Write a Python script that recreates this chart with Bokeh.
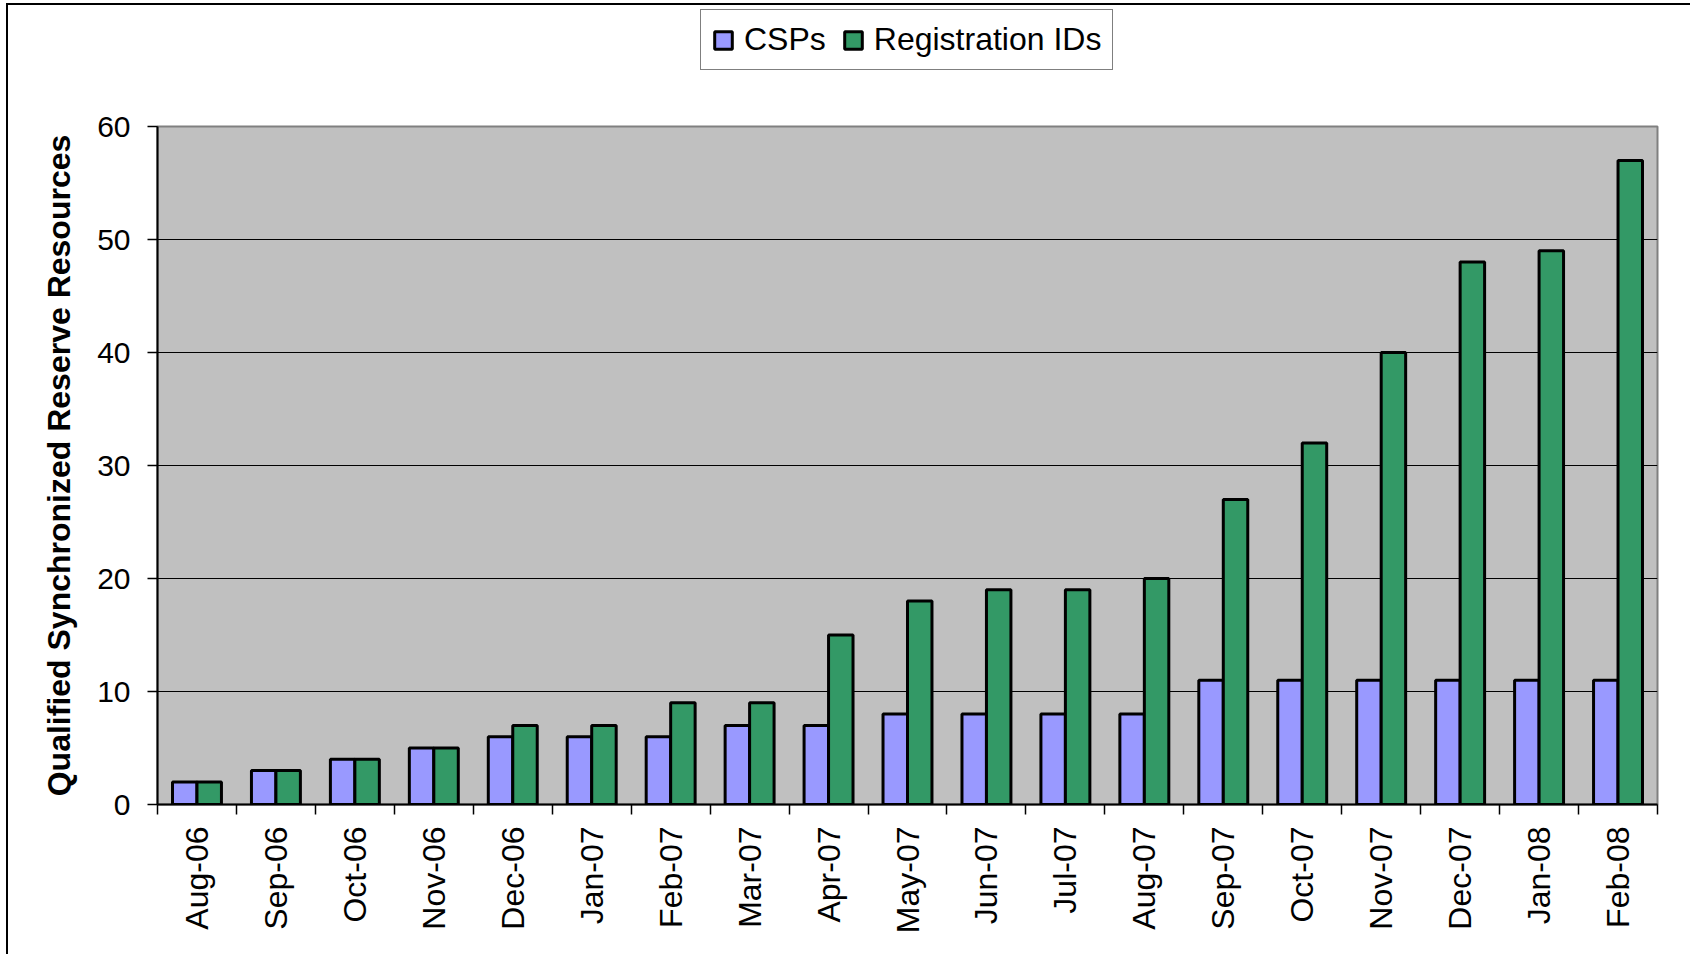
from bokeh.plotting import figure
from bokeh.models import ColumnDataSource, FixedTicker, Legend, LegendItem, Range1d
from bokeh.layouts import column
from bokeh.transform import dodge
from bokeh.embed import file_html
from bokeh.resources import INLINE

months = ["Aug-06", "Sep-06", "Oct-06", "Nov-06", "Dec-06", "Jan-07", "Feb-07", "Mar-07",
          "Apr-07", "May-07", "Jun-07", "Jul-07", "Aug-07", "Sep-07", "Oct-07", "Nov-07",
          "Dec-07", "Jan-08", "Feb-08"]
csps = [2, 3, 4, 5, 6, 6, 6, 7, 7, 8, 8, 8, 8, 11, 11, 11, 11, 11, 11]
reg_ids = [2, 3, 4, 5, 7, 7, 9, 9, 15, 18, 19, 19, 20, 27, 32, 40, 48, 49, 57]
y_ticks = [0, 10, 20, 30, 40, 50, 60]
series_names = ["CSPs", "Registration IDs"]
series_colors = ["#9999FF", "#339966"]

n = len(months)
centers = [i + 0.5 for i in range(n)]
bounds = list(range(n + 1))

src = ColumnDataSource(dict(x=centers, csps=csps, reg=reg_ids, m=months))

FONT = "Liberation Sans"
W = 1682
TOP_H = 90
MAIN_H = 859
LEFT = 149

# ---------- main chart ----------
p = figure(width=W, height=MAIN_H, output_backend="svg", toolbar_location=None,
           x_range=Range1d(0, n), y_range=Range1d(0, 60),
           min_border_left=LEFT, min_border_right=33, min_border_top=31, min_border_bottom=150)

p.background_fill_color = "#C0C0C0"
p.border_fill_color = "white"
p.outline_line_color = "#808080"
p.outline_line_width = 2

bw = 0.31
r1 = p.vbar(x=dodge("x", -bw / 2), top="csps", width=bw, source=src,
            fill_color=series_colors[0], line_color="black", line_width=3)
r2 = p.vbar(x=dodge("x", bw / 2), top="reg", width=bw, source=src,
            fill_color=series_colors[1], line_color="black", line_width=3)

p.xaxis.ticker = FixedTicker(ticks=centers, minor_ticks=bounds)
p.xaxis.major_label_overrides = {c: m for c, m in zip(centers, months)}
p.xaxis.major_tick_line_color = None
p.xaxis.minor_tick_line_color = "black"
p.xaxis.minor_tick_line_width = 1.5
p.xaxis.minor_tick_in = 0
p.xaxis.minor_tick_out = 10
p.xaxis.major_label_orientation = 1.5708
p.xaxis.major_label_text_font = FONT
p.xaxis.major_label_text_font_size = "32px"
p.xaxis.major_label_text_color = "black"
p.xaxis.major_label_standoff = 12
p.xaxis.axis_line_color = "black"
p.xaxis.axis_line_width = 2

p.yaxis.ticker = FixedTicker(ticks=y_ticks)
p.yaxis.minor_tick_line_color = None
p.yaxis.major_tick_in = 0
p.yaxis.major_tick_out = 10
p.yaxis.major_tick_line_color = "black"
p.yaxis.major_tick_line_width = 1.5
p.yaxis.major_label_text_font = FONT
p.yaxis.major_label_text_font_size = "30px"
p.yaxis.major_label_text_color = "black"
p.yaxis.major_label_standoff = 17
p.yaxis.axis_line_color = "black"
p.yaxis.axis_line_width = 2
p.yaxis.axis_label = "Qualified Synchronized Reserve Resources"
p.yaxis.axis_label_text_font = FONT
p.yaxis.axis_label_text_font_style = "bold"
p.yaxis.axis_label_text_font_size = "32px"
p.yaxis.axis_label_text_color = "black"
p.yaxis.axis_label_standoff = 17

p.xgrid.grid_line_color = None
p.ygrid.ticker = FixedTicker(ticks=y_ticks[1:-1])
p.ygrid.grid_line_color = "black"
p.ygrid.grid_line_width = 1

# ---------- legend strip ----------
top = figure(width=W, height=TOP_H, output_backend="svg", toolbar_location=None,
             x_range=Range1d(0, W), y_range=Range1d(0, TOP_H),
             min_border_left=0, min_border_right=0, min_border_top=0, min_border_bottom=0)
top.axis.visible = False
top.grid.visible = False
top.outline_line_color = None
top.background_fill_color = "white"

# hidden renderers that only supply the legend swatches
l1 = top.vbar(x="x", top="csps", width=bw, source=src, visible=False,
              fill_color=series_colors[0], line_color="black", line_width=3)
l2 = top.vbar(x="x", top="reg", width=bw, source=src, visible=False,
              fill_color=series_colors[1], line_color="black", line_width=3)

legend = Legend(items=[LegendItem(label=series_names[0], renderers=[l1]),
                       LegendItem(label=series_names[1], renderers=[l2])],
                orientation="horizontal", location=(700 - 8 - LEFT, TOP_H - 65),
                label_text_font=FONT, label_text_font_size="32px", label_text_color="black",
                glyph_width=22, glyph_height=22, spacing=16,
                label_standoff=10, padding=11, margin=0,
                inactive_fill_alpha=0,
                border_line_color="black", border_line_width=1.5,
                background_fill_color="white", background_fill_alpha=1)
top.add_layout(legend, "center")

layout = column(top, p, spacing=0)
layout.styles = {"border-top": "2px solid black", "border-left": "2px solid black",
                 "margin-top": "3px", "margin-left": "6px"}

open("out.html", "w").write(file_html(layout, INLINE))
